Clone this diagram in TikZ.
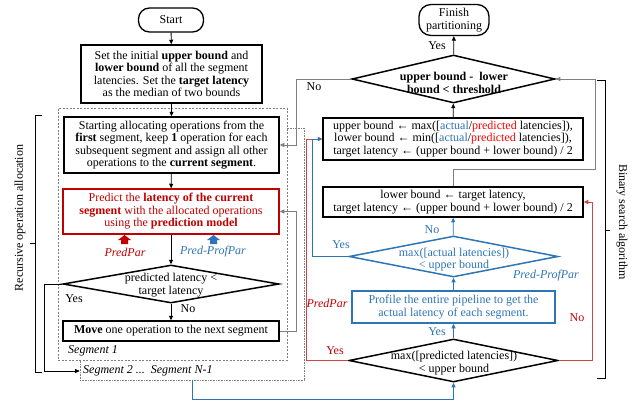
\documentclass[tikz,border=0pt]{standalone}
\usepackage{fontspec}
\setmainfont{Liberation Serif}
\usetikzlibrary{arrows.meta,shapes.geometric,calc}
\definecolor{dred}{HTML}{C00000}
\definecolor{bred}{HTML}{FF0000}
\definecolor{lred}{HTML}{D04545}
\definecolor{mblue}{HTML}{2E75B6}
\definecolor{lgrey}{HTML}{7F7F7F}
\newcommand\fs{\fontsize{12}{12.5}\selectfont}
\tikzset{
 box/.style={draw, line width=1.5pt, align=center, inner sep=0pt, fill=white},
 term/.style={draw, line width=1.3pt, align=center, inner sep=0pt, rounded corners=11pt},
 dia/.style={draw, diamond, line width=1.5pt, inner sep=0pt},
 arr/.style={-{Triangle[length=4.5pt,width=4pt]}, line width=0.8pt},
 garr/.style={arr, draw=lgrey},
 rarr/.style={arr, draw=lred},
 barr/.style={arr, draw=mblue},
 lbl/.style={inner sep=0pt, align=center},
 segbox/.style={draw=lgrey, line width=0.6pt, inner sep=0pt},
}
\begin{document}
\begin{tikzpicture}[x=1pt,y=-1pt,font=\fs]
\useasboundingbox (0,0) rectangle (640,402);

% segment containers
\node[segbox, densely dotted, minimum width=224, minimum height=252] (s2) at (192,254) {};
\node[segbox, dash pattern=on 2pt off 1.5pt, fill=white, minimum width=229, minimum height=252] (s1) at (172.5,234) {};

% left column
\node[term, minimum width=65, minimum height=24] (start) at (171,20) {Start};
\node[box, minimum width=181, minimum height=58] (b1) at (171.5,74) {Set the initial \textbf{upper bound} and\\\textbf{lower bound} of all the segment\\latencies. Set the \textbf{target latency}\\as the median of two bounds};
\node[box, minimum width=215, minimum height=56] (b2) at (171.5,145) {Starting allocating operations from the\\\textbf{first} segment, keep \textbf{1} operation for each\\subsequent segment and assign all other\\operations to the \textbf{current segment}.};
\node[box, draw=dred, text=dred, minimum width=216, minimum height=45] (b3) at (171,211.5) {Predict the \textbf{latency of the current}\\\textbf{segment} with the allocated operations\\using the \textbf{prediction model}};
\node[dia, minimum width=216, minimum height=38] (d1) at (171,284) {};
\node[lbl] (d1t) at (171,285) {predicted latency <\\target latency};
\node[box, minimum width=216, minimum height=20] (mv) at (171,331) {\textbf{Move} one operation to the next segment};

\node[lbl] (y1) at (74,299) {Yes};
\node[lbl] (n1) at (188,309) {No};
\node[lbl, anchor=west, font=\fs\itshape] (seg1l) at (68,351) {Segment 1};
\node[lbl, anchor=west, font=\fs\itshape] (seg2l) at (83,371) {Segment 2 ...\ \ Segment N-1};

% block arrows
\fill[dred] (118,240) -- (124.5,235) -- (131,240) -- (128,240) -- (128,244) -- (121,244) -- (121,240) -- cycle;
\fill[mblue] (207,240) -- (213.5,235) -- (220,240) -- (217,240) -- (217,244) -- (210,244) -- (210,240) -- cycle;
\node[lbl, font=\fs\itshape, text=dred] (pp1) at (125,252) {PredPar};
\node[lbl, font=\fs\itshape, text=mblue] (ppp1) at (213,252) {Pred-ProfPar};

% left connectors
\draw[arr] (start) -- (b1);
\draw[arr] (b1) -- (b2);
\draw[arr] (b2) -- (b3);
\draw[arr] (b3) -- (d1);
\draw[arr] (d1) -- (mv);
\coordinate (yesin) at (s2.west |- seg2l);
\draw[arr, line width=0.7pt] (d1.west) -- ++(-18,0) |- (yesin);
\draw[garr] (mv.east) -- ++(17,0) |- (b3.east);

% right column
\node[term, minimum width=70, minimum height=31, rounded corners=12pt] (fin) at (454,20) {Finish\\partitioning};
\node[dia, minimum width=203, minimum height=48] (D) at (453.5,79) {};
\node[lbl, font=\fs\bfseries] (Dt) at (454,83) {upper bound -\ \ lower\\bound < threshold};
\node[box, minimum width=260, minimum height=42] (ub) at (453,139) {upper bound ← max([\textcolor{mblue}{actual}/\textcolor{bred}{predicted} latencies]),\\lower bound ← min([\textcolor{mblue}{actual}/\textcolor{bred}{predicted} latencies]),\\target latency ← (upper bound + lower bound) / 2};
\node[box, minimum width=260, minimum height=30] (lb) at (453,202) {lower bound ← target latency,\\target latency ← (upper bound + lower bound) / 2};
\node[dia, draw=mblue, minimum width=209, minimum height=41] (bd) at (453.5,256.5) {};
\node[lbl, text=mblue] (bdt) at (454,259.5) {max([actual latencies])\\< upper bound};
\node[box, draw=mblue, text=mblue, minimum width=203, minimum height=32] (pf) at (453.5,307) {Profile the entire pipeline to get the\\actual latency of each segment.};
\node[dia, minimum width=209, minimum height=43] (kd) at (453.5,360.5) {};
\node[lbl] (kdt) at (454,363) {max([predicted latencies])\\< upper bound};

\node[lbl] (y2) at (437,46) {Yes};
\node[lbl] (n2) at (314,87) {No};
\node[lbl, text=mblue] (n3) at (432,230) {No};
\node[lbl, text=mblue] (y3) at (341,245) {Yes};
\node[lbl, font=\fs\itshape, text=mblue] (ppp2) at (546,276) {Pred-ProfPar};
\node[lbl, font=\fs\itshape, text=dred] (pp2) at (327,303) {PredPar};
\node[lbl, text=dred] (n4) at (577,318) {No};
\node[lbl, text=mblue] (y4) at (437,332) {Yes};
\node[lbl, text=dred] (y5) at (335,351) {Yes};

% right connectors
\draw[arr] (D) -- (fin);
\draw[arr] (ub) -- (D);
\coordinate (rc) at (595,79);
\draw[garr] (lb.north) -- ++(0,-17) -| (rc) -- (D.east);
\draw[garr] (D.west) -- ++(-55,0) |- (b2.east);
\draw[barr] (bd) -- (lb);
\draw[barr] (pf) -- (bd);
\draw[barr] (kd) -- (pf);
\draw[rarr] (kd.west) -- ++(-42,0) |- (ub.west);
\draw[barr] (bd.west) -- ++(-36,0) |- (ub.west);
\draw[rarr] (kd.east) -- ++(34,0) |- (lb.east);
\draw[barr] (s2.south) -- ++(0,19) -| (kd.south);

% braces
\draw[line width=0.8pt] (42,115) -- (35,115) -- (35,372) -- (42,372);
\draw[line width=0.8pt] (35,243) -- (30,243);
\node[rotate=90] (lbrace) at (20,218) {Recursive operation allocation};
\draw[line width=0.8pt] (597,80) -- (605,80) -- (605,378) -- (597,378);
\draw[line width=0.8pt] (605,230) -- (610,230);
\node[rotate=-90] (rbrace) at (622,222) {Binary search algorithm};
\end{tikzpicture}
\end{document}
